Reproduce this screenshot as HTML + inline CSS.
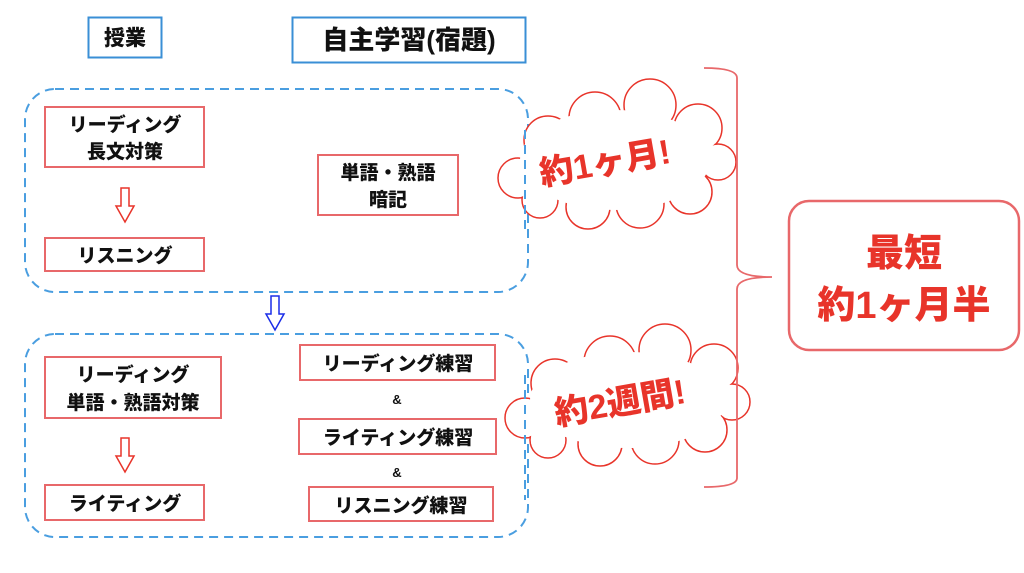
<!DOCTYPE html>
<html><head><meta charset="utf-8"><style>
html,body{margin:0;padding:0;background:#fff;width:1024px;height:573px;overflow:hidden}
svg{display:block}
text{font-family:"Liberation Sans","Noto Sans CJK JP",sans-serif;font-weight:900}
</style></head><body>
<svg width="1024" height="573" viewBox="0 0 1024 573" xmlns="http://www.w3.org/2000/svg">
<rect x="88.5" y="17.5" width="73" height="40" fill="#fff" stroke="#3a8fd6" stroke-width="2"/>
<text x="125" y="45" font-size="21" text-anchor="middle" fill="#111">授業</text>
<rect x="292.5" y="17.5" width="233" height="45" fill="#fff" stroke="#3a8fd6" stroke-width="2"/>
<text x="409" y="49" font-size="26" text-anchor="middle" fill="#111">自主学習(宿題)</text>
<rect x="25" y="89" width="503" height="203" rx="30" fill="none" stroke="#4a9ee0" stroke-width="2" stroke-dasharray="9,6"/>
<rect x="25" y="334" width="503" height="203" rx="30" fill="none" stroke="#4a9ee0" stroke-width="2" stroke-dasharray="9,6"/>
<g fill="#fff" stroke="#e8686a" stroke-width="2">
<rect x="45" y="107" width="159" height="60"/>
<rect x="45" y="238" width="159" height="33"/>
<rect x="318" y="155" width="140" height="60"/>
<rect x="45" y="357" width="176" height="61"/>
<rect x="45" y="485" width="159" height="35"/>
<rect x="300" y="345" width="195" height="35"/>
<rect x="299" y="419" width="197" height="35"/>
<rect x="309" y="487" width="184" height="34"/>
</g>
<g fill="#111" font-size="19" text-anchor="middle">
<text x="125" y="131">リーディング</text>
<text x="125" y="158">長文対策</text>
<text x="125" y="262">リスニング</text>
<text x="388" y="179">単語・熟語</text>
<text x="388" y="206">暗記</text>
<text x="133" y="381">リーディング</text>
<text x="133" y="409">単語・熟語対策</text>
<text x="125" y="510">ライティング</text>
<text x="398" y="370">リーディング練習</text>
<text x="398" y="444">ライティング練習</text>
<text x="401" y="512">リスニング練習</text>
<text x="397" y="404" font-size="13">&amp;</text>
<text x="397" y="477" font-size="13">&amp;</text>
</g>
<path d="M121,188 H129 V206 H134 L125,222 L116,206 H121 Z" fill="#fff" stroke="#e8342a" stroke-width="1.5"/>
<path d="M121,438 H129 V456 H134 L125,472 L116,456 H121 Z" fill="#fff" stroke="#e8342a" stroke-width="1.5"/>
<path d="M271,296 H279 V314 H284 L275,330 L266,314 H271 Z" fill="#fff" stroke="#1a2de8" stroke-width="1.5"/>
<!-- cloud 1 -->
<g stroke="#e8342a" stroke-width="1.5" fill="#fff">
<circle cx="518" cy="178" r="20"/><circle cx="548" cy="140" r="24"/><circle cx="595" cy="118" r="26"/>
<circle cx="650" cy="105" r="26"/><circle cx="698" cy="128" r="24"/><circle cx="718" cy="162" r="18"/>
<circle cx="690" cy="192" r="22"/><circle cx="640" cy="204" r="24"/><circle cx="588" cy="207" r="22"/><circle cx="540" cy="200" r="18"/>
</g>
<g fill="#fff">
<circle cx="518" cy="178" r="19"/><circle cx="548" cy="140" r="23"/><circle cx="595" cy="118" r="25"/>
<circle cx="650" cy="105" r="25"/><circle cx="698" cy="128" r="23"/><circle cx="718" cy="162" r="17"/>
<circle cx="690" cy="192" r="21"/><circle cx="640" cy="204" r="23"/><circle cx="588" cy="207" r="21"/><circle cx="540" cy="200" r="17"/>
<ellipse cx="615" cy="160" rx="95" ry="50"/>
</g>
<!-- cloud 2 -->
<g stroke="#e8342a" stroke-width="1.5" fill="#fff">
<circle cx="525" cy="418" r="20"/><circle cx="555" cy="383" r="24"/><circle cx="610" cy="362" r="26"/>
<circle cx="665" cy="350" r="26"/><circle cx="714" cy="368" r="24"/><circle cx="732" cy="402" r="18"/>
<circle cx="705" cy="430" r="22"/><circle cx="655" cy="440" r="24"/><circle cx="600" cy="444" r="22"/><circle cx="548" cy="440" r="18"/>
</g>
<g fill="#fff">
<circle cx="525" cy="418" r="19"/><circle cx="555" cy="383" r="23"/><circle cx="610" cy="362" r="25"/>
<circle cx="665" cy="350" r="25"/><circle cx="714" cy="368" r="23"/><circle cx="732" cy="402" r="17"/>
<circle cx="705" cy="430" r="21"/><circle cx="655" cy="440" r="23"/><circle cx="600" cy="444" r="21"/><circle cx="548" cy="440" r="17"/>
<ellipse cx="628" cy="400" rx="98" ry="48"/>
</g>
<line x1="525" y1="130" x2="525" y2="235" stroke="#4a9ee0" stroke-width="2" stroke-dasharray="9,6"/>
<line x1="525" y1="375" x2="525" y2="500" stroke="#4a9ee0" stroke-width="2" stroke-dasharray="9,6"/>
<text x="0" y="0" font-size="34" fill="#e8342a" transform="translate(607,174) rotate(-10)" text-anchor="middle">約1ヶ月!</text>
<text x="0" y="0" font-size="34" fill="#e8342a" transform="translate(622,414) rotate(-10)" text-anchor="middle">約2週間!</text>
<path d="M704,68 Q737,68 737,78 V265 Q737,277 772,277 Q737,277 737,289 V478 Q737,487 704,487" fill="none" stroke="#e8686a" stroke-width="1.8"/>
<rect x="789" y="201" width="230" height="149" rx="20" fill="#fff" stroke="#e8686a" stroke-width="2.5"/>
<text x="904" y="266" font-size="38" text-anchor="middle" fill="#e8342a">最短</text>
<text x="904" y="318" font-size="38" text-anchor="middle" fill="#e8342a">約1ヶ月半</text>
</svg>
</body></html>
